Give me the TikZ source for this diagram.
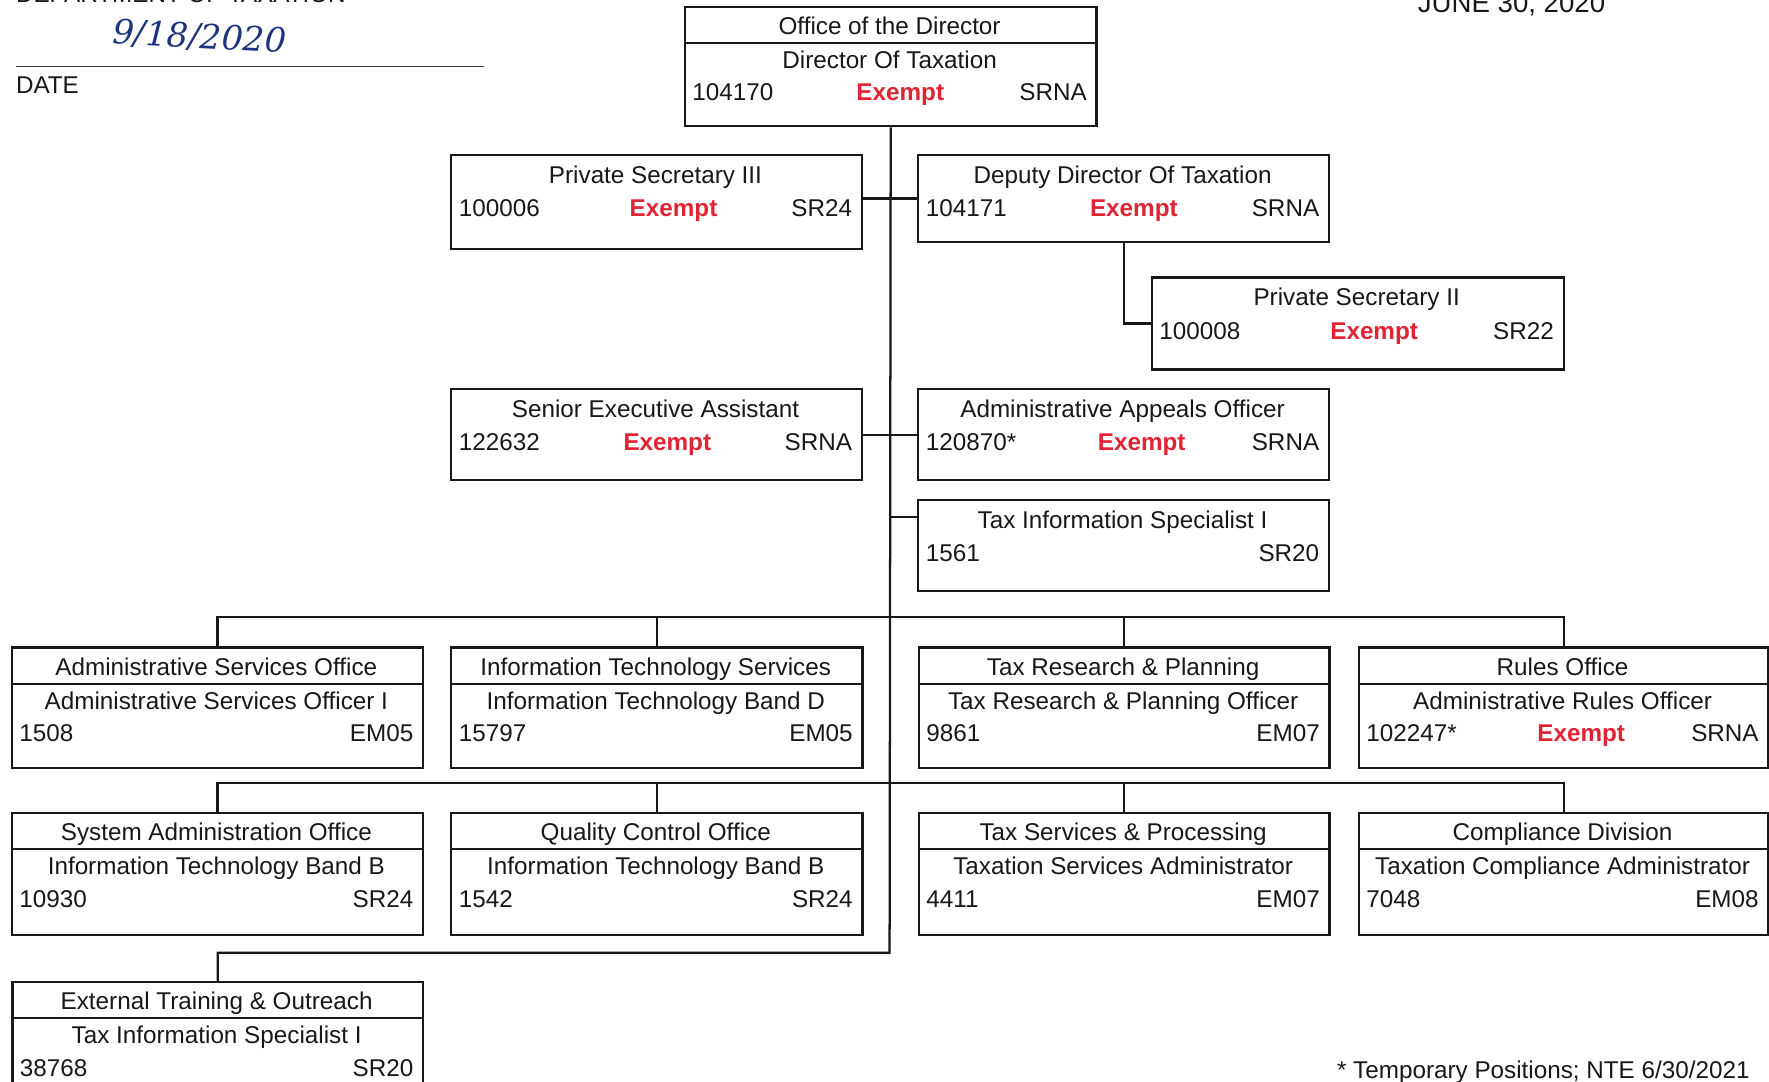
\documentclass[tikz,border=0pt]{standalone}
\usepackage{fontspec}
\setmainfont{Liberation Sans}
\newfontfamily\handfont{DejaVu Serif}
\definecolor{exred}{RGB}{224,36,52}
\definecolor{ink}{RGB}{24,24,24}
\definecolor{pen}{RGB}{30,52,128}
\newcommand\fs{\fontsize{21.5}{25}\selectfont}
\tikzset{
  box/.style={draw=ink, line width=2pt, inner sep=0pt, anchor=north west, rectangle},
  conn/.style={draw=ink, line width=2pt},
  tx/.style={inner sep=0pt, anchor=base, font=\fs, text=ink},
  tl/.style={inner sep=0pt, anchor=base west, font=\fs, text=ink},
  tr/.style={inner sep=0pt, anchor=base east, font=\fs, text=ink},
  ex/.style={inner sep=0pt, anchor=base, font=\fs\bfseries, text=exred},
}
% header box: name, x, y, w, h, title, position, id, grade
\newcommand\orgHead[9]{%
  \node[box, minimum width=#4pt, minimum height=#5pt] (#1) at (#2,#3) {};
  \draw[conn] ([yshift=-33pt]#1.north west) -- ([yshift=-33pt]#1.north east);
  \node[tx] (#1-a) at ({#2+#4/2},{#3+25.5}) {#6};
  \node[tx] (#1-b) at ({#2+#4/2},{#3+56}) {#7};
  \node[tl] (#1-c) at ({#2+7.5},{#3+84.5}) {#8};
  \node[tr] (#1-d) at ({#2+#4-7.5},{#3+84.5}) {#9};
}
% plain box: name, x, y, w, h, title, id, grade
\newcommand\orgPlain[8]{%
  \node[box, minimum width=#4pt, minimum height=#5pt] (#1) at (#2,#3) {};
  \node[tx] (#1-a) at ({#2+#4/2},{#3+26}) {#6};
  \node[tl] (#1-c) at ({#2+7.5},{#3+55.5}) {#7};
  \node[tr] (#1-d) at ({#2+#4-7.5},{#3+55.5}) {#8};
}
\begin{document}
\begin{tikzpicture}[x=1pt, y=-1pt]
\useasboundingbox[fill=white] (0,0) rectangle (1568,959.05);

% header texts (partly cut by page edge)
\node[tl] (dept) at (14,2.4) {DEPARTMENT OF TAXATION};
\node[inner sep=0pt, anchor=base west, font=\fontsize{24.5}{28}\selectfont, text=ink] (asof) at (1256.5,11.2) {JUNE 30, 2020};
\node[inner sep=0pt, font=\handfont\itshape\fontsize{30}{34}\selectfont, text=pen, rotate=-3] (hdate) at (177,33) {9/18/2020};
\draw[line width=1.6pt, black!75] (14,59) -- (429,59);
\node[tl] (datelbl) at (14,82.5) {DATE};
\node[inner sep=0pt, anchor=base east, font=\fs, text=ink] (foot) at (1551,955.6) {* Temporary Positions; NTE 6/30/2021};

% boxes
\orgHead{top}{606}{5}{365}{106}{Office of the Director}{Director Of Taxation}{104170}{SRNA}
\node[ex] (top-e) at (798,{5+84.5}) {Exempt};

\orgPlain{ps3}{399}{136.5}{364}{83.5}{Private Secretary III}{100006}{SR24}
\node[ex] (ps3-e) at (597,192) {Exempt};
\orgPlain{dep}{813}{136.5}{364}{77}{Deputy Director Of Taxation}{104171}{SRNA}
\node[ex] (dep-e) at (1005,192) {Exempt};
\orgPlain{ps2}{1020}{245}{365}{81.5}{Private Secretary II}{100008}{SR22}
\node[ex] (ps2-e) at (1218,300.5) {Exempt};
\orgPlain{sea}{399}{344}{364}{80.6}{Senior Executive Assistant}{122632}{SRNA}
\node[ex] (sea-e) at (591.5,399.5) {Exempt};
\orgPlain{aao}{813}{344}{364}{80.6}{Administrative Appeals Officer}{120870*}{SRNA}
\node[ex] (aao-e) at (1012,399.5) {Exempt};
\orgPlain{tis}{813}{442}{364}{81}{Tax Information Specialist I}{1561}{SR20}

\orgHead{aso}{9.5}{573}{364.5}{107}{Administrative Services Office}{Administrative Services Officer I}{1508}{EM05}
\orgHead{its}{399}{573}{364.5}{107}{Information Technology Services}{Information Technology Band D}{15797}{EM05}
\orgHead{trp}{813.5}{573}{364}{107}{Tax Research \& Planning}{Tax Research \& Planning Officer}{9861}{EM07}
\orgHead{rul}{1203.5}{573}{363}{107}{Rules Office}{Administrative Rules Officer}{102247*}{SRNA}
\node[ex] (rul-e) at (1401.5,657.5) {Exempt};

\orgHead{sao}{9.5}{719.5}{364.5}{108}{System Administration Office}{Information Technology Band B}{10930}{SR24}
\orgHead{qco}{399}{719.5}{364.5}{108}{Quality Control Office}{Information Technology Band B}{1542}{SR24}
\orgHead{tsp}{813.5}{719.5}{364}{108}{Tax Services \& Processing}{Taxation Services Administrator}{4411}{EM07}
\orgHead{cmp}{1203.5}{719.5}{363}{108}{Compliance Division}{Taxation Compliance Administrator}{7048}{EM08}

\orgHead{ext}{10}{869.3}{364}{108}{External Training \& Outreach}{Tax Information Specialist I}{38768}{SR20}

% connector coordinates
\coordinate (bus1) at (788.5,547.2);
\coordinate (bus2) at (788.5,694.3);
\coordinate (bus3) at (788.5,844.5);
\coordinate (tisin) at (813,458);

% trunk
\draw[conn] (top.south) -- (bus3) -| (ext.north);
% side branches
\draw[conn] (ps3.east |- dep.west) -- (dep.west);
\draw[conn] (dep.south) |- (ps2.west);
\draw[conn] (sea.east) -- (aao.west);
\draw[conn] (top.south |- tisin) -- (tisin);
% bus 1
\draw[conn] (aso.north) |- (bus1) -| (rul.north);
\draw[conn] (its.north) -- (its.north |- bus1);
\draw[conn] (trp.north) -- (trp.north |- bus1);
% bus 2
\draw[conn] (sao.north) |- (bus2) -| (cmp.north);
\draw[conn] (qco.north) -- (qco.north |- bus2);
\draw[conn] (tsp.north) -- (tsp.north |- bus2);
\end{tikzpicture}
\end{document}
